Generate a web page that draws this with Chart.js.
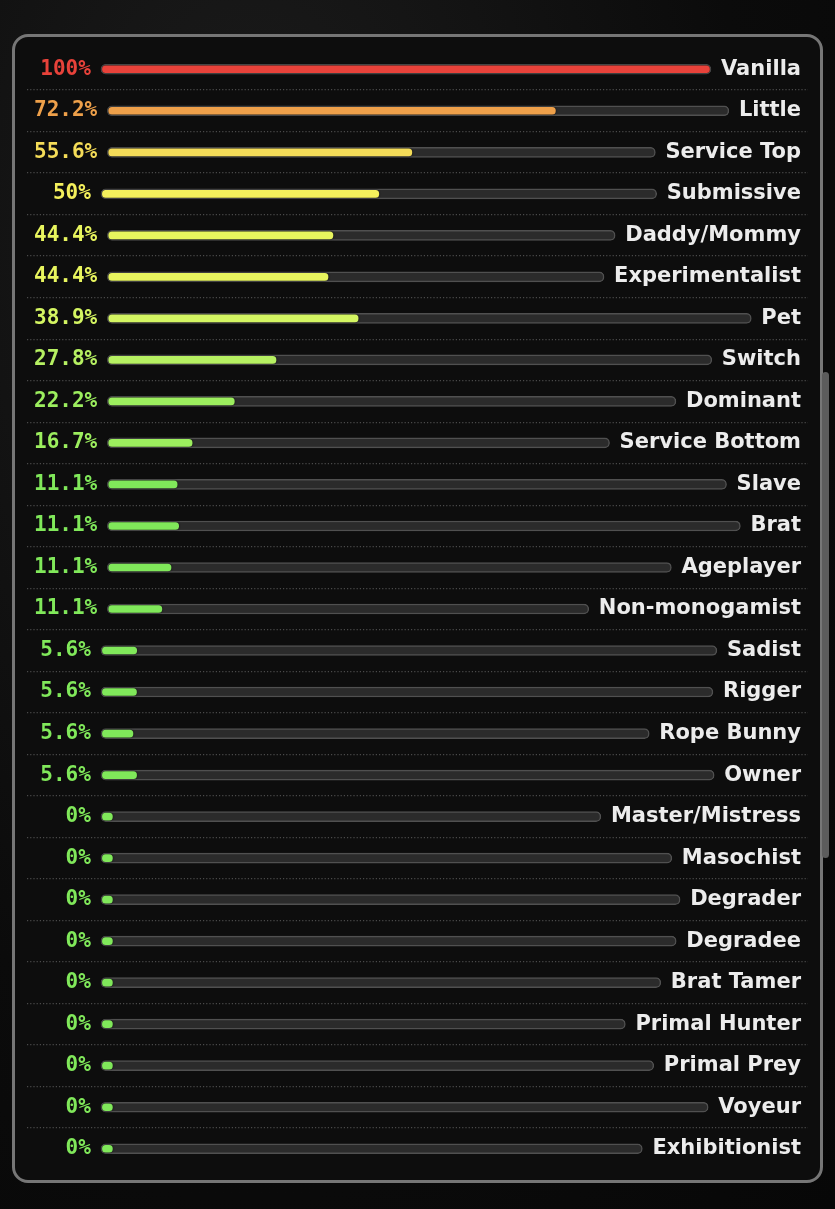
<!DOCTYPE html>
<html>
<head>
<meta charset="utf-8">
<script src="https://cdn.jsdelivr.net/npm/chart.js@4.4.1/dist/chart.umd.min.js"></script>
<style>
  html, body { margin: 0; padding: 0; }
  body {
    width: 835px; height: 1209px; overflow: hidden; position: relative;
    background: radial-gradient(ellipse at 30% 20%, #1c1c1c 0%, #0b0b0b 60%, #070707 100%);
  }
  .painel {
    position: absolute; left: 12px; top: 34px; width: 805px; height: 1143px;
    border: 3px solid #767676; border-radius: 16px; background: #0d0d0d;
  }
  .grafico { position: absolute; left: 13px; top: 38px; width: 806px; height: 1141px; }
  .rolagem {
    position: absolute; left: 822px; top: 372px; width: 7px; height: 486px;
    background: #5c5c5c; border-radius: 4px;
  }
</style>
</head>
<body>
<div class="painel"></div>
<div class="grafico"><canvas id="grafico"></canvas></div>
<div class="rolagem"></div>
<script>
// categorias (de cima para baixo)
const categorias = [
  "Vanilla", "Little", "Service Top", "Submissive", "Daddy/Mommy", "Experimentalist",
  "Pet", "Switch", "Dominant", "Service Bottom", "Slave", "Brat", "Ageplayer",
  "Non-monogamist", "Sadist", "Rigger", "Rope Bunny", "Owner", "Master/Mistress",
  "Masochist", "Degrader", "Degradee", "Brat Tamer", "Primal Hunter", "Primal Prey",
  "Voyeur", "Exhibitionist"
];
// porcentagens
const valores = [
  100, 72.2, 55.6, 50, 44.4, 44.4, 38.9, 27.8, 22.2, 16.7, 11.1, 11.1, 11.1,
  11.1, 5.6, 5.6, 5.6, 5.6, 0, 0, 0, 0, 0, 0, 0, 0, 0
];
// rótulos da esquerda
const rotulosPct = [
  "100%", "72.2%", "55.6%", "50%", "44.4%", "44.4%", "38.9%", "27.8%", "22.2%",
  "16.7%", "11.1%", "11.1%", "11.1%", "11.1%", "5.6%", "5.6%", "5.6%", "5.6%",
  "0%", "0%", "0%", "0%", "0%", "0%", "0%", "0%", "0%"
];
// cores de cada linha
const cores = [
  "#e8423a", "#eea04a", "#f4dc58", "#f4f05c", "#e8f55e", "#e8f55e", "#d4f562",
  "#b6f062", "#9cee5e", "#9cee5e", "#80e85a", "#80e85a", "#80e85a", "#80e85a",
  "#80e85a", "#80e85a", "#80e85a", "#80e85a", "#80e85a", "#80e85a", "#80e85a",
  "#80e85a", "#80e85a", "#80e85a", "#80e85a", "#80e85a", "#80e85a"
];

const fontePct = { family: "'DejaVu Sans Mono', monospace", size: 21, weight: "bold", lineHeight: 0.2 };
const fonteNome = { family: "'DejaVu Sans', sans-serif", size: 21, weight: "bold", lineHeight: 0.2 };

// ajusta cada barra entre o rótulo da esquerda e o da direita
const pluginLinhas = {
  id: "linhas",
  beforeDatasetsDraw(chart) {
    const ctx = chart.ctx;
    const esq = chart.scales.y.getLabelItems();
    const dir = chart.scales.y2.getLabelItems();
    const xs = chart.scales.x;
    const preench = chart.getDatasetMeta(0).data;
    const trilha = chart.getDatasetMeta(1).data;

    ctx.save();
    for (let i = 0; i < categorias.length; i++) {
      ctx.font = "bold 21px 'DejaVu Sans Mono', monospace";
      const a = esq[i];
      const wa = ctx.measureText(a.label).width;
      let fimEsq = a.options.translation[0];
      if (a.options.textAlign === "center") fimEsq += wa / 2;
      else if (a.options.textAlign === "left") fimEsq += wa;

      ctx.font = "bold 21px 'DejaVu Sans', sans-serif";
      const b = dir[i];
      const wb = ctx.measureText(b.label).width;
      let iniDir = b.options.translation[0];
      if (b.options.textAlign === "right") iniDir -= wb;
      else if (b.options.textAlign === "center") iniDir -= wb / 2;

      const inicio = fimEsq + 10;
      const fim = iniDir - 10;
      const frac = (xs.getPixelForValue(valores[i]) - xs.left) / xs.width;

      trilha[i].base = inicio;
      trilha[i].x = fim;
      preench[i].base = inicio + 1.5;
      preench[i].x = inicio + 1.5 + Math.max(10, frac * (fim - inicio - 3));
    }
    ctx.restore();
  },
  beforeDatasetDraw(chart, args) {
    if (args.index === 0) {
      chart.ctx.save();
      chart.ctx.shadowColor = "rgba(0,0,0,0.8)";
      chart.ctx.shadowBlur = 2;
    }
  },
  afterDatasetDraw(chart, args) {
    if (args.index === 0) chart.ctx.restore();
  }
};

const ctx = document.getElementById("grafico").getContext("2d");
new Chart(ctx, {
  type: "bar",
  data: {
    labels: categorias,
    datasets: [
      {
        label: "Resultado",
        data: valores,
        backgroundColor: cores,
        barThickness: 7,
        borderRadius: 4,
        borderSkipped: false,
        grouped: false,
        clip: false,
        order: 0,
      },
      {
        label: "Trilha",
        data: valores.map(() => 100),
        backgroundColor: "#2b2b2b",
        borderColor: "#505050",
        borderWidth: 1.5,
        barThickness: 10,
        borderRadius: 5,
        borderSkipped: false,
        grouped: false,
        clip: false,
        order: 1,
      },
    ],
  },
  options: {
    indexAxis: "y",
    responsive: true,
    maintainAspectRatio: false,
    animation: false,
    layout: { padding: { left: 0, right: 11, top: 10.5, bottom: 9.5 } },
    plugins: { legend: { display: false }, tooltip: { enabled: false } },
    scales: {
      x: { display: false, min: 0, max: 100 },
      y: {
        position: "left",
        offset: true,
        grid: {
          offset: true,
          drawTicks: false,
          lineWidth: 1.2,
          color: (c) => (c.index > 0 ? "#4a4a4a" : "transparent"),
        },
        border: { display: false, dash: [1.2, 2] },
        ticks: {
          mirror: true,
          crossAlign: "center",
          padding: 7,
          font: fontePct,
          color: (c) => cores[c.index],
          callback: (v, i) => rotulosPct[i].padStart(4, " "),
        },
      },
      y2: {
        type: "category",
        position: "right",
        offset: true,
        grid: { display: false, drawTicks: false, offset: true },
        border: { display: false },
        ticks: {
          mirror: true,
          padding: -7,
          font: fonteNome,
          color: "#ececec",
        },
      },
    },
  },
  plugins: [pluginLinhas],
});
</script>
</body>
</html>
